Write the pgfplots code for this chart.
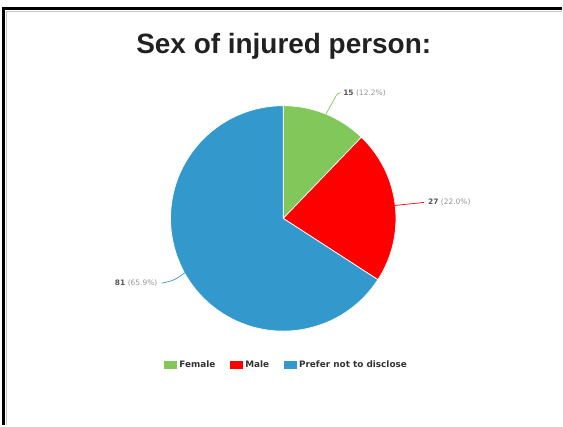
\documentclass[border=0pt]{standalone}
\usepackage{fontspec}
\usepackage{pgfplots}
\usepackage{pgfplotstable}
\pgfplotsset{compat=1.18}
\setmainfont{DejaVu Sans}
\newfontfamily\titlefont{Liberation Sans}
\newfontfamily\dejavu{DejaVu Sans}

\definecolor{cfemale}{RGB}{130,199,90}
\definecolor{cmale}{RGB}{255,0,0}
\definecolor{cprefer}{RGB}{51,153,204}
\definecolor{numgray}{RGB}{85,85,85}
\definecolor{pctgray}{RGB}{150,150,150}
\definecolor{leggray}{RGB}{51,51,51}

\pgfplotstableread{
label value
Female 15
Male 27
Prefer 81
}\piedata

\pgfplotstablegetelem{0}{value}\of\piedata\edef\vA{\pgfplotsretval}
\pgfplotstablegetelem{1}{value}\of\piedata\edef\vB{\pgfplotsretval}
\pgfplotstablegetelem{2}{value}\of\piedata\edef\vC{\pgfplotsretval}
\pgfmathsetmacro\tot{\vA+\vB+\vC}
\pgfmathsetmacro\aA{90}
\pgfmathsetmacro\aB{\aA-360*(\vA/\tot)}
\pgfmathsetmacro\aC{\aB-360*(\vB/\tot)}
\pgfmathsetmacro\aD{\aC-360*(\vC/\tot)}

\begin{document}
\begin{tikzpicture}
\begin{axis}[
  scale only axis, width=563pt, height=426pt,
  xmin=0, xmax=563, ymin=0, ymax=426,
  hide axis, clip=false,
  legend columns=3,
  legend image code/.code={\fill[#1] (0pt,-4pt) rectangle (13pt,4pt);},
  legend style={draw=none, fill=none, at={(0.5105,0.1408)}, anchor=center,
    font=\dejavu\bfseries\fontsize{8.9}{10}\selectfont, text=leggray,
    /tikz/every even column/.append style={column sep=12pt},
    nodes={inner xsep=2.5pt},
    inner sep=0pt},
  legend cell align=left,
]
\path (axis cs:0,0) rectangle (axis cs:563,426);
% frame
\draw[gray!45, line width=1pt] (axis cs:6.5,0) -- (axis cs:6.5,414.5) -- (axis cs:563,414.5);
\draw[black, line width=3pt] (axis cs:4,0) -- (axis cs:4,417) -- (axis cs:563,417);
% pie
\filldraw[fill=cfemale, draw=white, line width=0.7pt] (axis cs:284,207) -- ++(\aA:113pt) arc[start angle=\aA, end angle=\aB, radius=113pt] -- cycle;
\filldraw[fill=cmale, draw=white, line width=0.7pt] (axis cs:284,207) -- ++(\aB:113pt) arc[start angle=\aB, end angle=\aC, radius=113pt] -- cycle;
\filldraw[fill=cprefer, draw=white, line width=0.7pt] (axis cs:284,207) -- ++(\aC:113pt) arc[start angle=\aC, end angle=\aD, radius=113pt] -- cycle;
% leader lines
\draw[cfemale, line width=0.7pt] (axis cs:326.5,311) -- (axis cs:337,330) .. controls (axis cs:338.5,332.5) .. (axis cs:342,333);
\draw[cmale, line width=0.7pt] (axis cs:396,220) -- (axis cs:425,223);
\draw[cprefer, line width=0.7pt] (axis cs:186,153) .. controls (axis cs:175,145) .. (axis cs:162,142);
% labels
\node[anchor=west, inner sep=0pt, font=\dejavu\fontsize{7.5}{9}\selectfont] at (axis cs:344,333) {\textcolor{numgray}{\bfseries 15} \textcolor{pctgray}{(12.2\%)}};
\node[anchor=west, inner sep=0pt, font=\dejavu\fontsize{7.5}{9}\selectfont] at (axis cs:429,223) {\textcolor{numgray}{\bfseries 27} \textcolor{pctgray}{(22.0\%)}};
\node[anchor=east, inner sep=0pt, font=\dejavu\fontsize{7.5}{9}\selectfont] at (axis cs:158,142) {\textcolor{numgray}{\bfseries 81} \textcolor{pctgray}{(65.9\%)}};
% title
\node[anchor=base, inner sep=0pt, text=black!87, font=\titlefont\bfseries\fontsize{28}{32}\selectfont] at (axis cs:284.5,372) {Sex of injured person:};
% legend
\addlegendimage{fill=cfemale, draw=none}
\addlegendentry{Female}
\addlegendimage{fill=cmale, draw=none}
\addlegendentry{Male}
\addlegendimage{fill=cprefer, draw=none}
\addlegendentry{Prefer not to disclose}
\end{axis}
\end{tikzpicture}
\end{document}
